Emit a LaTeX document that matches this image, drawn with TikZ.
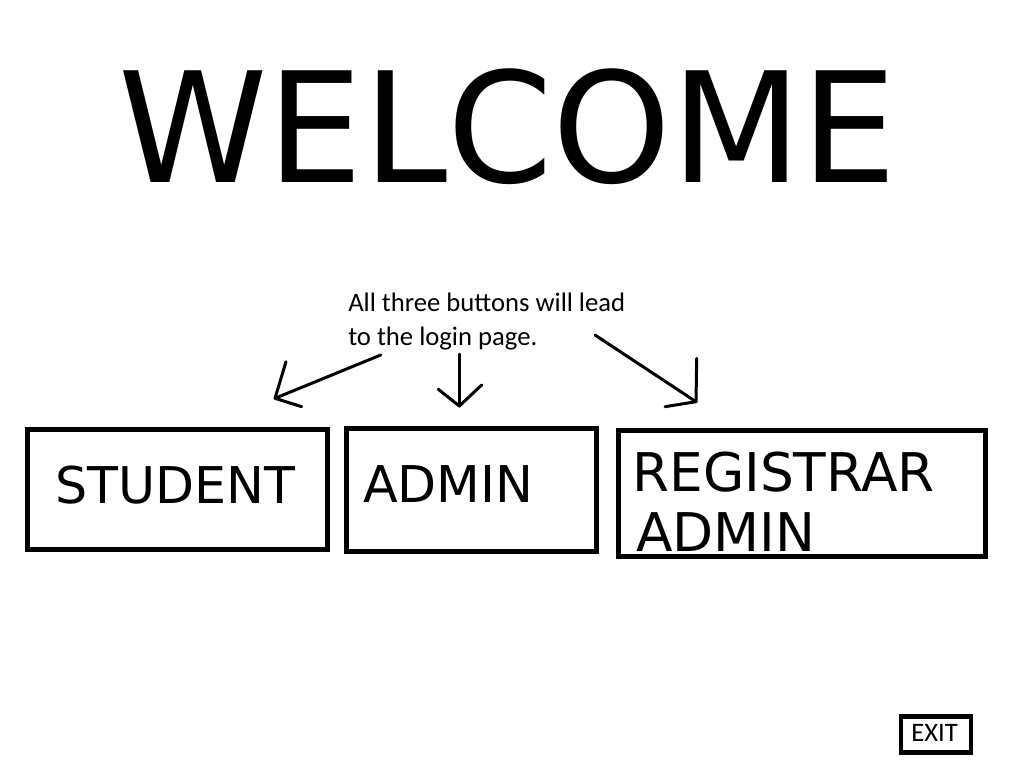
\documentclass[tikz,border=0pt]{standalone}
\usepackage{fontspec}
\setmainfont{DejaVu Sans}
\newfontfamily\calib{Carlito}
\newfontfamily\titlefont[FakeStretch=0.985]{DejaVu Sans}
\begin{document}
\begin{tikzpicture}[x=0.75pt,y=-0.75pt,
  btn/.style={draw=black,line width=3.75pt,rectangle,inner sep=0pt,fill=none},
  btntext/.style={anchor=base west,inner sep=0pt,font=\fontsize{38}{44}\selectfont},
  note/.style={anchor=base west,inner sep=0pt,font=\calib\fontsize{20}{24}\selectfont},
  pen/.style={line width=2.25pt,line cap=round,line join=round}]
\fill[white] (0,0) rectangle (1024,768);
\useasboundingbox (0,0) rectangle (1024,768);
% title
\node[anchor=base west,inner sep=0pt,font=\titlefont\fontsize{115}{120}\selectfont] (title) at (118,182) {WELCOME};
% buttons
\node[btn,minimum width=225pt,minimum height=90pt] (student) at (177.5,489.5) {};
\node[btn,minimum width=187.5pt,minimum height=92.25pt] (admin) at (471,490) {};
\node[btn,minimum width=275.6pt,minimum height=94.5pt] (registrar) at (801.75,493) {};
\node[btntext] (studentlbl) at (55,503.3) {STUDENT};
\node[btntext] (adminlbl) at (363,502.3) {ADMIN};
\node[btntext,font=\fontsize{40}{46}\selectfont] (reglbl1) at (632,491) {REGISTRAR};
\node[btntext,font=\fontsize{40}{46}\selectfont] (reglbl2) at (636,551.5) {ADMIN};
% note
\node[note] (note1) at (348,311.7) {All three buttons will lead};
\node[note] (note2) at (348,345) {to the login page.};
% exit
\node[draw=black,line width=3.5pt,rectangle,inner sep=0pt,minimum width=52.5pt,minimum height=27pt] (exit) at (936,734.5) {};
\node[note] (exitlbl) at (911,741) {EXIT};
% arrow coordinates
\coordinate (la) at (380.7,355);
\coordinate (lt) at (275,398.3);
\coordinate (lh1) at (286,361.7);
\coordinate (lh2) at (301.7,406.7);
\coordinate (ma) at (459.3,354);
\coordinate (mt) at (459.3,406);
\coordinate (mh1) at (438.3,389.3);
\coordinate (mh2) at (481.7,385);
\coordinate (ra) at (595,335);
\coordinate (rt) at (696,401.7);
\coordinate (rh1) at (696.7,358.3);
\coordinate (rh2) at (665,406.7);
\draw[pen] (la) -- (lt);
\draw[pen] (lh1) -- (lt) -- (lh2);
\draw[pen] (ma) -- (mt);
\draw[pen] (mh1) -- (mt) -- (mh2);
\draw[pen] (ra) -- (rt);
\draw[pen] (rh1) -- (rt) -- (rh2);
\end{tikzpicture}
\end{document}
